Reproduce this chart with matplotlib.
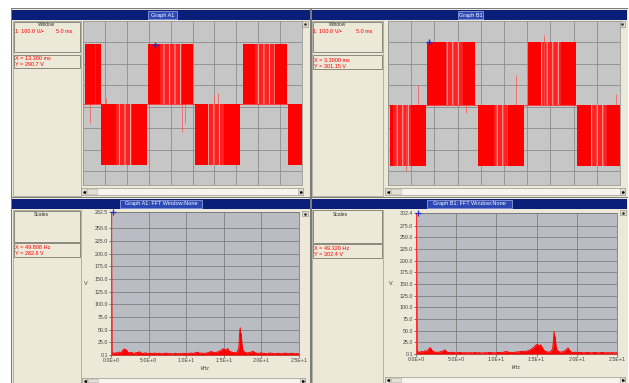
"""Four-panel scope screen: two PWM voltage traces and their FFT spectra."""
import matplotlib.pyplot as plt
from matplotlib.patches import Rectangle

W, H = 629, 383
plt.rcParams['font.family'] = ['Liberation Sans', 'DejaVu Sans']
plt.rcParams['hatch.linewidth'] = 0.7

# --- time traces: block edges in ms, levels in V ---
TL_START = [0.4, 4.2, 14.9, 25.6, 36.5, 46.9]
TL_END = [4.0, 14.5, 25.0, 35.9, 46.6, 50.0]
TL_SIGN = [1, -1, 1, -1, 1, -1]
TL_STRIPE_START = [2.7, 7.6, 17.6, 28.6, 39.3]
TL_STRIPE_END = [3.0, 11.1, 22.5, 32.1, 43.9]
TL_LEVELS = [292, -268, 12]          # high, low, base
TL_SPIKE_T = [1.7, 5.2, 22.5, 23.3, 29.8, 30.9]
TL_SPIKE_V = [-75, 40, -115, -75, 56, 64]
TL_CURSOR = [16.4, 290]

TR_START = [0.36, 8.45, 19.3, 30.1, 40.8]
TR_END = [8.2, 18.8, 29.4, 40.5, 50.0]
TR_SIGN = [-1, 1, -1, 1, -1]
TR_STRIPE_START = [1.1, 12.5, 22.9, 32.9, 43.7]
TR_STRIPE_END = [5.0, 16.1, 25.8, 37.2, 47.3]
TR_LEVELS = [304, -274, 8]
TR_SPIKE_T = [3.9, 6.4, 16.8, 27.6, 33.7, 49.1]
TR_SPIKE_V = [-300, 102, -30, 149, 335, 60]
TR_CURSOR = [8.9, 300]

# --- spectra: kHz / V ---
FFT_F = [0.0, 0.05, 0.12, 0.3, 0.5, 0.7, 0.9, 1.1, 1.3, 1.5,
         1.65, 1.8, 1.9, 2.0, 2.2, 2.4, 2.7, 3.0, 3.3, 3.6,
         3.8, 4.0, 4.3, 4.6, 4.9, 5.2, 5.5, 5.8, 6.1, 6.4,
         6.7, 7.0, 7.3, 7.6, 7.9, 8.2, 8.5, 8.8, 9.1, 9.4,
         9.7, 10.0, 10.3, 10.6, 10.9, 11.2, 11.5, 11.8, 12.1, 12.4,
         12.7, 13.0, 13.3, 13.5, 13.8, 14.1, 14.4, 14.7, 14.9, 15.1,
         15.3, 15.5, 15.7, 15.9, 16.2, 16.5, 16.8, 17.0, 17.1, 17.18,
         17.25, 17.32, 17.4, 17.55, 17.8, 18.1, 18.4, 18.7, 18.9, 19.1,
         19.3, 19.6, 19.9, 20.2, 20.5, 20.8, 21.1, 21.4, 21.7, 22.0,
         22.3, 22.6, 22.9, 23.2, 23.5, 23.8, 24.1, 24.4, 24.7, 25.0]
BL_V = [0.1, 282.5, 3.0, 4.5, 2.5, 5.0, 3.5, 6.0, 4.0, 8.0,
        10.5, 12.0, 9.0, 11.0, 6.5, 4.0, 5.5, 3.0, 4.5, 5.0,
        6.5, 4.0, 3.0, 4.5, 2.5, 3.5, 3.0, 4.0, 2.5, 3.5,
        2.5, 3.0, 4.0, 2.5, 3.0, 2.0, 3.5, 2.5, 3.0, 2.5,
        3.5, 2.5, 3.0, 4.0, 3.0, 4.5, 5.5, 3.5, 4.0, 3.0,
        4.0, 5.0, 7.0, 6.0, 4.5, 5.5, 7.5, 10.0, 12.5, 11.0,
        9.5, 13.0, 8.0, 6.5, 5.0, 4.5, 6.0, 14.0, 41.0, 54.0,
        38.0, 42.0, 22.0, 9.0, 5.5, 4.0, 5.0, 6.0, 7.5, 5.0,
        4.0, 3.0, 4.5, 3.5, 3.0, 2.5, 4.0, 3.5, 2.5, 3.0,
        3.5, 2.5, 3.0, 4.0, 2.5, 3.0, 3.5, 2.5, 3.0, 2.5]
BR_V = [0.1, 302.4, 3.5, 5.0, 3.0, 6.0, 4.0, 7.0, 5.5, 9.0,
        12.0, 13.5, 10.0, 7.5, 5.0, 4.0, 3.5, 4.5, 6.0, 9.0,
        5.0, 3.5, 3.0, 4.0, 2.5, 3.0, 3.5, 2.5, 3.0, 2.5,
        3.0, 2.5, 3.5, 2.5, 3.0, 2.0, 3.0, 2.5, 3.5, 3.0,
        2.5, 3.0, 3.5, 3.0, 4.0, 5.5, 4.0, 3.0, 3.5, 4.0,
        4.5, 5.5, 6.0, 5.0, 6.5, 8.0, 11.0, 15.0, 19.0, 21.0,
        17.0, 20.0, 14.0, 8.0, 5.0, 4.0, 5.5, 12.0, 30.0, 48.0,
        33.0, 37.0, 18.0, 8.0, 5.0, 4.0, 6.0, 9.0, 13.0, 8.0,
        4.5, 3.0, 4.0, 3.0, 3.5, 2.5, 3.0, 3.5, 2.5, 3.0,
        3.5, 2.5, 3.0, 3.5, 2.5, 3.0, 2.5, 3.0, 2.5, 3.0]
FFT_XTICKS = [0, 5, 10, 15, 20, 25]
FFT_XLABELS = ['0.0E+0', '5.0E+0', '1.0E+1', '1.5E+1', '2.0E+1', '2.5E+1']
BL_YTICKS = [0.1, 25, 50, 75, 100, 125, 150, 175, 200, 225, 250, 282.5]
BR_YTICKS = [0.1, 25, 50, 75, 100, 125, 150, 175, 200, 225, 250, 275, 302.4]

TITLES = ['Graph A1', 'Graph B1', 'Graph A1: FFT Window:None', 'Graph B1: FFT Window:None']

BEIGE = '#ece9d8'
NAVY = '#0a1f7a'
RED = '#ff0000'

fig = plt.figure(figsize=(W / 100, H / 100), dpi=100)
bg = fig.add_axes([0, 0, 1, 1])
bg.set_xlim(0, W)
bg.set_ylim(H, 0)
bg.axis('off')


def rect(x0, y0, x1, y1, fc, ec='none', lw=0.0, z=1):
    bg.add_patch(Rectangle((x0, y0), x1 - x0, y1 - y0, fc=fc, ec=ec, lw=lw, zorder=z))


def txt(x, y, s, color='#303030', size=4.0, ha='left'):
    bg.text(x, y, s, color=color, fontsize=size, ha=ha, va='center', zorder=5)


def px_axes(x0, y0, x1, y1):
    return fig.add_axes([x0 / W, 1 - y1 / H, (x1 - x0) / W, (y1 - y0) / H])


# window chrome
rect(11, 8, 628, 383, '#7c7c7c')
panels = [(12, 9, 310, 197), (312, 9, 628, 197), (12, 198, 310, 383), (312, 198, 628, 383)]
bars = [(12, 10, 310, 20), (312, 10, 627, 20), (12, 199, 310, 209), (312, 199, 627, 209)]
tboxes = [(148, 177), (458, 483), (120, 202), (427, 512)]
for (x0, y0, x1, y1), (bx0, by0, bx1, by1), (tx0, tx1), title in zip(panels, bars, tboxes, TITLES):
    rect(x0, y0, x1, y1, BEIGE)
    rect(bx0, by0, bx1, by1, NAVY, z=2)
    rect(tx0, by0 + 1, tx1, by1 - 1, '#2c48b4', ec='#c8d0ff', lw=0.4, z=3)
    txt((tx0 + tx1) / 2, (by0 + by1) / 2, title, color='white', size=4.0, ha='center')

# info columns
info = [(13, 81, 22, 52, 55, 68), (312, 383, 22, 52, 55, 69),
        (13, 81, 211, 242, 243, 257), (312, 383, 210, 243, 244, 258)]
for i, (x0, x1, a0, a1, b0, b1) in enumerate(info):
    top = 21 if i < 2 else 210
    bottom = 196 if i < 2 else 383
    rect(x0, top, x1, bottom, BEIGE, ec='#a8a59a', lw=0.6, z=2)
    rect(x0 + 1, a0, x1 - 1, a1, BEIGE, ec='#8a877c', lw=0.7, z=3)
    rect(x0 + 1, b0, x1 - 1, b1, BEIGE, ec='#8a877c', lw=0.7, z=3)

txt(47, 25, 'Window', size=3.4, ha='center')
txt(15, 31.5, '1: 100.0 V/\u2022', color=RED)
txt(56, 31.5, '5.0 ms', color=RED)
txt(15, 59, 'X = 13.300 ms', color=RED)
txt(15, 65, 'Y = 290.7 V', color=RED)
txt(338, 25, 'Window', size=3.4, ha='center')
txt(313, 31.5, '1: 100.0 V/\u2022', color=RED)
txt(356, 31.5, '5.0 ms', color=RED)
txt(314, 60, 'X = 3.3000 ms', color=RED)
txt(314, 66, 'Y = 301.15 V', color=RED)
txt(41, 215, 'Scales', size=3.6, ha='center')
txt(15, 247.5, 'X = 49.808 Hz', color=RED)
txt(15, 253.5, 'Y = 282.6 V', color=RED)
txt(340, 215, 'Scales', size=3.6, ha='center')
txt(314, 248.5, 'X = 49.320 Hz', color=RED)
txt(314, 254.5, 'Y = 302.4 V', color=RED)

# scrollbars and corner buttons
for x0, y0, x1, y1 in [(81, 188, 303, 195), (385, 188, 625, 195), (82, 378, 305, 383), (385, 377, 625, 383)]:
    rect(x0, y0, x1, y1, '#f5f4ef', ec='#9a978c', lw=0.5, z=2)
    rect(x0, y0, x0 + 5, y1, '#dedbd0', ec='#9a978c', lw=0.4, z=3)
    rect(x1 - 5, y0, x1, y1, '#dedbd0', ec='#9a978c', lw=0.4, z=3)
    rect(x0 + 6, y0 + 1, x0 + 16, y1 - 1, '#e4e1d6', ec='#b0ada2', lw=0.4, z=3)
    bg.plot([x0 + 2.5], [(y0 + y1) / 2], marker='<', ms=1.2, color='k', zorder=4)
    bg.plot([x1 - 2.5], [(y0 + y1) / 2], marker='>', ms=1.2, color='k', zorder=4)
for x0, y0, x1, y1 in [(302, 21, 308, 27), (619, 21, 625, 27), (302, 211, 308, 216), (620, 210, 626, 215)]:
    rect(x0, y0, x1, y1, '#dedbd0', ec='#8a877c', lw=0.4, z=3)
    bg.plot([(x0 + x1) / 2], [(y0 + y1) / 2], marker='s', ms=0.8, color='#303030', zorder=4)


def draw_trace(ax, starts, ends, signs, s_starts, s_ends, levels, spike_t, spike_v, cursor):
    hi, lo, base = levels
    ax.set_facecolor('#c6c6c6')
    ax.set_xlim(0, 50)
    ax.set_ylim(-363, 400)
    ax.set_xticks(range(0, 51, 5))
    ax.set_yticks(range(-300, 301, 100))
    ax.grid(True, color='#8c8c8c', lw=0.6)
    ax.tick_params(length=0, labelbottom=False, labelleft=False)
    for sp in ax.spines.values():
        sp.set_color('#9a9a9a')
        sp.set_linewidth(0.6)
    ax.axhline(base, color='#ff2a2a', lw=0.6, zorder=2)
    for t0, t1, s in zip(starts, ends, signs):
        ax.fill_between([t0, t1], base, hi if s > 0 else lo, color=RED, lw=0, zorder=3)
    # chopped middle of each block: red with light gaps
    for t0, t1 in zip(s_starts, s_ends):
        s = [sg for a, b, sg in zip(starts, ends, signs) if a <= t0 <= b][0]
        ax.fill_between([t0, t1], base, hi if s > 0 else lo, facecolor='#ff2020',
                        edgecolor='#f7b4b4', hatch='|||', lw=0, zorder=4)
    ax.vlines(spike_t, base, spike_v, color='#ff5050', lw=0.5, zorder=4)
    ax.plot([cursor[0]], [cursor[1]], marker='+', ms=5, mew=1.0, color='#2030d0', zorder=6)


def draw_fft(ax, freq, volts, yticks):
    ax.set_facecolor('#b9bcc3')
    ax.set_xlim(0, 25)
    ax.set_ylim(yticks[0], yticks[-1])
    ax.set_xticks(FFT_XTICKS)
    ax.set_xticklabels(FFT_XLABELS)
    ax.set_yticks(yticks)
    ax.set_yticklabels([f'{v:.1f}' for v in yticks])
    ax.grid(True, color='#7e7e7e', lw=0.6)
    ax.tick_params(length=1.5, width=0.5, pad=0.8, labelsize=3.8, colors='#404040')
    for sp in ax.spines.values():
        sp.set_color('#7a7a7a')
        sp.set_linewidth(0.6)
    ax.fill_between(freq, yticks[0], volts, color=RED, lw=0, zorder=3)
    ax.plot(freq, volts, color=RED, lw=0.7, zorder=3)
    ax.axvline(0.05, color='#ff3030', lw=1.0, zorder=4)
    ax.plot([0.3], [yticks[-1]], marker='+', ms=4, mew=0.9, color='#2030d0', clip_on=False, zorder=6)
    ax.set_xlabel('kHz', fontsize=3.8, color='#404040', labelpad=2)
    ax.set_ylabel('V', fontsize=4.0, color='#404040', rotation=0, labelpad=6, va='center')


ax_tl = px_axes(83, 21, 302, 185)
draw_trace(ax_tl, TL_START, TL_END, TL_SIGN, TL_STRIPE_START, TL_STRIPE_END,
           TL_LEVELS, TL_SPIKE_T, TL_SPIKE_V, TL_CURSOR)
ax_tr = px_axes(388, 21, 620, 185)
draw_trace(ax_tr, TR_START, TR_END, TR_SIGN, TR_STRIPE_START, TR_STRIPE_END,
           TR_LEVELS, TR_SPIKE_T, TR_SPIKE_V, TR_CURSOR)
ax_bl = px_axes(111, 212, 299, 355)
draw_fft(ax_bl, FFT_F, BL_V, BL_YTICKS)
ax_br = px_axes(416, 213, 617, 354)
draw_fft(ax_br, FFT_F, BR_V, BR_YTICKS)

fig.savefig('out.png', dpi=100)
